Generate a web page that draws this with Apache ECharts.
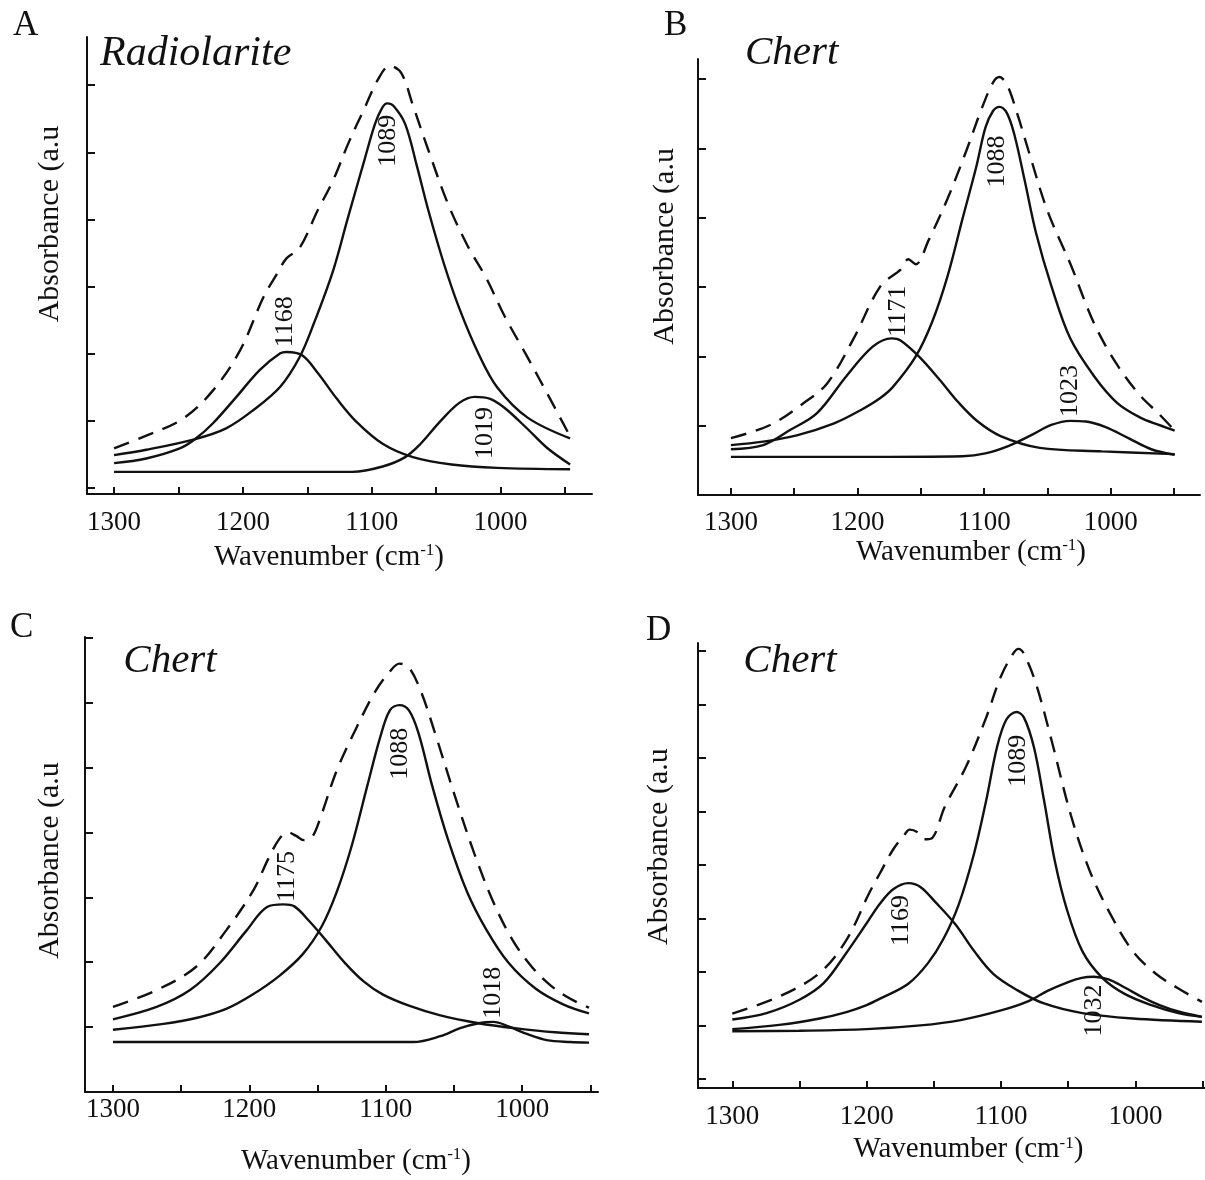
<!DOCTYPE html>
<html>
<head>
<meta charset="utf-8">
<title>FTIR band deconvolution</title>
<script src="https://cdn.jsdelivr.net/npm/echarts@6.0.0/dist/echarts.min.js"></script>
<style>
html, body { margin: 0; padding: 0; background: #fff; }
#layout { width: 1205px; height: 1180px; }
</style>
</head>
<body>
<div id="layout"></div>
<script>
// x axis: wavenumber (cm-1), drawn from high to low
const xTickValues = [950, 1000, 1050, 1100, 1150, 1200, 1250, 1300];
const xLabelValues = [1000, 1100, 1200, 1300];

// panel A - Radiolarite
const aYTicks = [0.1, 1.1, 2.1, 3.1, 4.1, 5.1, 6.1];
const aMeasured = [[1300,0.68],[1275,0.87],[1246,1.13],[1223,1.55],[1202,2.15],[1184,2.94],[1174,3.27],[1166,3.52],[1156,3.67],[1142,4.23],[1130,4.68],[1118,5.24],[1106,5.74],[1095,6.19],[1086,6.39],[1077,6.28],[1068,5.80],[1056,5.13],[1041,4.34],[1026,3.72],[1011,3.22],[997,2.66],[979,2.04],[961,1.40],[946,0.86]];
const aBand1089 = [[1300,0.58],[1275,0.66],[1237,0.82],[1213,0.98],[1192,1.25],[1171,1.60],[1156,2.04],[1145,2.54],[1130,3.33],[1118.5,4.12],[1106,4.96],[1097.5,5.52],[1092,5.76],[1088,5.83],[1083,5.79],[1074,5.52],[1065,4.90],[1056,4.23],[1044,3.44],[1032,2.77],[1017,2.09],[1002.5,1.59],[979,1.14],[946,0.83]];
const aBand1168 = [[1300,0.46],[1275,0.53],[1249,0.68],[1237,0.82],[1223,1.06],[1205,1.45],[1187,1.85],[1171,2.10],[1166,2.12],[1154,2.07],[1142,1.81],[1127,1.42],[1112,1.08],[1091.5,0.75],[1068,0.55],[1038,0.44],[1002.5,0.39],[946,0.37]];
const aBand1019 = [[1300,0.33],[1200,0.33],[1115,0.33],[1091.5,0.41],[1074,0.55],[1062,0.75],[1047,1.08],[1032,1.36],[1020,1.45],[1008,1.42],[996.5,1.28],[979,0.97],[964,0.69],[946,0.44]];
const aPeaks = [[1087.4,5.27,'1089'],[1167.3,2.57,'1168'],[1011.8,0.91,'1019']];

// panel B - Chert
const bYTicks = [1, 2, 3, 4, 5, 6];
const bMeasured = [[1300,0.82],[1269,1.01],[1243,1.32],[1224,1.61],[1203,2.26],[1182,3.01],[1166,3.25],[1160,3.40],[1154,3.33],[1144,3.67],[1129,4.27],[1114,4.97],[1102,5.57],[1093,5.95],[1088,6.03],[1082,5.92],[1074,5.51],[1065,4.97],[1050,4.10],[1032,3.34],[1013,2.47],[995,1.88],[977,1.44],[962,1.17],[949.5,0.93]];
const bBand1088 = [[1300,0.72],[1274.5,0.77],[1248,0.86],[1219,1.03],[1198,1.22],[1182,1.40],[1172,1.56],[1154,2.00],[1141,2.50],[1129,3.15],[1117,3.99],[1106,4.75],[1099,5.30],[1093,5.54],[1088,5.60],[1082,5.51],[1076,5.19],[1068,4.54],[1059,3.78],[1047,3.02],[1032,2.26],[1013,1.71],[995,1.33],[977,1.12],[962,1.01],[949.5,0.93]];
const bBand1171 = [[1300,0.66],[1274.5,0.72],[1253,0.94],[1232,1.18],[1209,1.71],[1188,2.14],[1173,2.26],[1166,2.23],[1151,1.99],[1135,1.66],[1120,1.33],[1105,1.06],[1087,0.85],[1056,0.68],[1007,0.63],[949.5,0.59]];
const bBand1023 = [[1300,0.55],[1200,0.55],[1117,0.56],[1099,0.60],[1080.5,0.71],[1062,0.87],[1047,1.01],[1032,1.07],[1019.5,1.06],[1004,0.98],[986,0.82],[968,0.66],[949.5,0.58]];
const bPeaks = [[1168,2.65,'1171'],[1089.6,4.81,'1088'],[1031.7,1.50,'1023']];

// panel C - Chert
const cYTicks = [1, 2, 3, 4, 5, 6, 7];
const cMeasured = [[1300,1.31],[1268,1.57],[1239,1.93],[1217,2.49],[1197,3.11],[1186,3.60],[1178,3.90],[1172,4.00],[1166,3.95],[1160,3.88],[1154,3.93],[1148,4.22],[1136,4.95],[1122,5.59],[1108,6.16],[1097,6.48],[1090,6.60],[1083,6.54],[1074,6.16],[1063,5.47],[1049,4.54],[1035,3.67],[1021,2.92],[1007,2.34],[993,1.93],[979,1.64],[965,1.44],[951,1.30]];
const cBand1088 = [[1300,0.96],[1263,1.05],[1239,1.14],[1217,1.28],[1197,1.51],[1178,1.79],[1161,2.12],[1147,2.55],[1136,3.08],[1125,3.79],[1113.5,4.72],[1104,5.47],[1097,5.88],[1090,5.96],[1083,5.88],[1076,5.53],[1066,4.72],[1054.5,3.90],[1040.5,3.09],[1026.5,2.51],[1010,1.99],[990,1.59],[970,1.35],[951,1.21]];
const cBand1175 = [[1300,1.12],[1268,1.31],[1243.5,1.57],[1222,1.98],[1202,2.49],[1187,2.85],[1175,2.89],[1167,2.86],[1156,2.63],[1144,2.34],[1130,1.99],[1116,1.70],[1102,1.50],[1083,1.33],[1060,1.18],[1032,1.06],[1004,0.98],[976,0.92],[951,0.89]];
const cBand1018 = [[1300,0.77],[1200,0.77],[1080,0.77],[1060,0.86],[1046,0.98],[1032,1.06],[1021,1.08],[1010,1.01],[996,0.89],[982,0.80],[965,0.77],[951,0.76]];
const cPeaks = [[1172.4,3.32,'1175'],[1089.6,5.21,'1088'],[1020.9,1.53,'1018']];

// panel D - Chert
const dYTicks = [0.17, 1.17, 2.17, 3.17, 4.17, 5.17, 6.17, 7.17, 8.17];
const dMeasured = [[1300,1.39],[1265,1.71],[1235,2.15],[1215,2.77],[1198,3.65],[1190,4.02],[1180.5,4.45],[1172,4.73],[1168,4.83],[1162,4.78],[1157,4.65],[1151,4.68],[1142,5.25],[1126,6.01],[1111,6.93],[1100,7.70],[1091,8.12],[1087,8.21],[1083,8.12],[1074,7.56],[1062.5,6.51],[1048,5.10],[1034,4.06],[1019,3.27],[1002,2.56],[985,2.14],[968,1.86],[950.5,1.61]];
const dBand1089 = [[1300,1.10],[1265,1.18],[1235,1.30],[1215,1.42],[1200,1.55],[1190,1.67],[1169,1.95],[1154.5,2.33],[1143,2.78],[1131.5,3.43],[1120,4.39],[1111,5.38],[1103,6.37],[1096,6.89],[1088.5,7.03],[1083,6.93],[1075.5,6.37],[1068,5.38],[1060,4.25],[1051,3.34],[1039.5,2.56],[1025,2.07],[1008,1.76],[988,1.55],[968,1.40],[950.5,1.33]];
const dBand1169 = [[1300,1.28],[1274.5,1.40],[1250,1.65],[1232,1.96],[1215,2.53],[1200,3.08],[1190,3.45],[1180,3.72],[1169,3.83],[1160,3.76],[1149,3.48],[1134,3.06],[1120,2.56],[1106,2.14],[1088,1.83],[1068,1.58],[1039.5,1.40],[1002,1.30],[950.5,1.24]];
const dBand1032 = [[1300,1.06],[1250,1.07],[1200,1.10],[1160,1.17],[1130,1.27],[1100,1.45],[1080,1.62],[1065,1.82],[1050,1.98],[1040,2.06],[1031,2.08],[1020,2.03],[1008,1.88],[995,1.70],[982,1.55],[968,1.43],[950.5,1.33]];
const dPeaks = [[1174.6,3.13,'1169'],[1087,6.12,'1089'],[1031,1.45,'1032']];

const ink = '#111';
const serif = '"Liberation Serif", "Times New Roman", serif';

// layout of the four panels (pixels)
const panels = [
    { letter: 'A', title: 'Radiolarite', titleSize: 42,
      grid: { left: 87, top: 37, width: 505, height: 457 }, xMin: 929, xMax: 1321, yMax: 6.82, yTicks: aYTicks, labelMargin: 15,
      lines: [aMeasured, aBand1089, aBand1168, aBand1019], peaks: aPeaks,
      letterAt: [13, 26.2], titleAt: [100, 53.8], xNameAt: [329, 557], yNameAt: [50, 224] },
    { letter: 'B', title: 'Chert', titleSize: 41,
      grid: { left: 698, top: 59, width: 502, height: 436 }, xMin: 929.5, xMax: 1326, yMax: 6.29, yTicks: bYTicks, labelMargin: 14,
      lines: [bMeasured, bBand1088, bBand1171, bBand1023], peaks: bPeaks,
      letterAt: [664, 25.8], titleAt: [745, 52.9], xNameAt: [971, 552], yNameAt: [665.6, 246.4] },
    { letter: 'C', title: 'Chert', titleSize: 41,
      grid: { left: 85, top: 637, width: 513, height: 455 }, xMin: 944.4, xMax: 1320.5, yMax: 7.01, yTicks: cYTicks, labelMargin: 4,
      lines: [cMeasured, cBand1088, cBand1175, cBand1018], peaks: cPeaks,
      letterAt: [10, 628.2], titleAt: [123.3, 661.2], xNameAt: [356, 1161], yNameAt: [49.7, 860.5] },
    { letter: 'D', title: 'Chert', titleSize: 41,
      grid: { left: 698, top: 643, width: 507, height: 445 }, xMin: 948.2, xMax: 1325.5, yMax: 8.32, yTicks: dYTicks, labelMargin: 15,
      lines: [dMeasured, dBand1089, dBand1169, dBand1032], peaks: dPeaks,
      letterAt: [646, 631.2], titleAt: [743.3, 661.2], xNameAt: [968.4, 1149.6], yNameAt: [659.5, 846.6] }
];

let myChart = echarts.init(document.getElementById('layout'), null, { renderer: 'canvas' });

let grids = [], xAxes = [], yAxes = [], series = [], graphics = [];

panels.forEach(function (p, i) {
    grids.push(Object.assign({ containLabel: false, outerBoundsMode: 'none' }, p.grid));

    xAxes.push({
        gridIndex: i, type: 'value', inverse: true, min: p.xMin, max: p.xMax,
        axisLine: { show: true, onZero: false, lineStyle: { color: ink, width: 2 } },
        axisTick: { show: true, inside: true, length: 7, customValues: xTickValues, lineStyle: { color: ink, width: 2 } },
        axisLabel: { show: true, customValues: xLabelValues, margin: p.labelMargin,
                     formatter: function (v) { return String(v); },
                     fontFamily: serif, fontSize: 27, color: ink },
        splitLine: { show: false }
    });
    yAxes.push({
        gridIndex: i, type: 'value', min: 0, max: p.yMax,
        axisLine: { show: true, onZero: false, lineStyle: { color: ink, width: 2 } },
        axisTick: { show: true, inside: true, length: 8, customValues: p.yTicks, lineStyle: { color: ink, width: 2 } },
        axisLabel: { show: false },
        splitLine: { show: false }
    });

    p.lines.forEach(function (d, k) {
        series.push({
            type: 'line', xAxisIndex: i, yAxisIndex: i, data: d,
            showSymbol: false, smooth: 0.35, silent: true,
            lineStyle: { color: ink, width: 2.4, type: k === 0 ? [16, 10] : 'solid' }
        });
    });

    // band position labels, written upwards
    series.push({
        type: 'scatter', xAxisIndex: i, yAxisIndex: i, symbolSize: 0, silent: true,
        itemStyle: { opacity: 1 },
        data: p.peaks.map(function (q) { return { value: [q[0], q[1]], name: q[2] }; }),
        label: { show: true, position: 'inside', rotate: 90, formatter: '{b}', opacity: 1,
                 fontFamily: serif, fontSize: 26, color: ink, textBorderWidth: 0 }
    });

    graphics.push({
        type: 'text', x: p.letterAt[0], y: p.letterAt[1],
        style: { text: p.letter, fontFamily: serif, fontSize: 35, fill: ink, align: 'left', verticalAlign: 'middle' }
    });
    graphics.push({
        type: 'text', x: p.titleAt[0], y: p.titleAt[1],
        style: { text: p.title, fontFamily: serif, fontStyle: 'italic', fontSize: p.titleSize, fill: ink, align: 'left', verticalAlign: 'middle' }
    });
    graphics.push({
        type: 'text', x: p.yNameAt[0], y: p.yNameAt[1], rotation: Math.PI / 2,
        style: { text: 'Absorbance (a.u', fontFamily: serif, fontSize: 30, fill: ink, align: 'center', verticalAlign: 'middle' }
    });
    graphics.push({
        type: 'text', x: p.xNameAt[0], y: p.xNameAt[1],
        style: {
            text: '{n|Wavenumber (cm}{s|-1}{n|)}', align: 'center', verticalAlign: 'middle', fill: ink,
            rich: {
                n: { fontFamily: serif, fontSize: 29, color: ink },
                s: { fontFamily: serif, fontSize: 17, color: ink, verticalAlign: 'top' }
            }
        }
    });
});

myChart.setOption({
    backgroundColor: '#fff',
    animation: false,
    grid: grids,
    xAxis: xAxes,
    yAxis: yAxes,
    series: series,
    graphic: graphics
});
</script>
</body>
</html>
